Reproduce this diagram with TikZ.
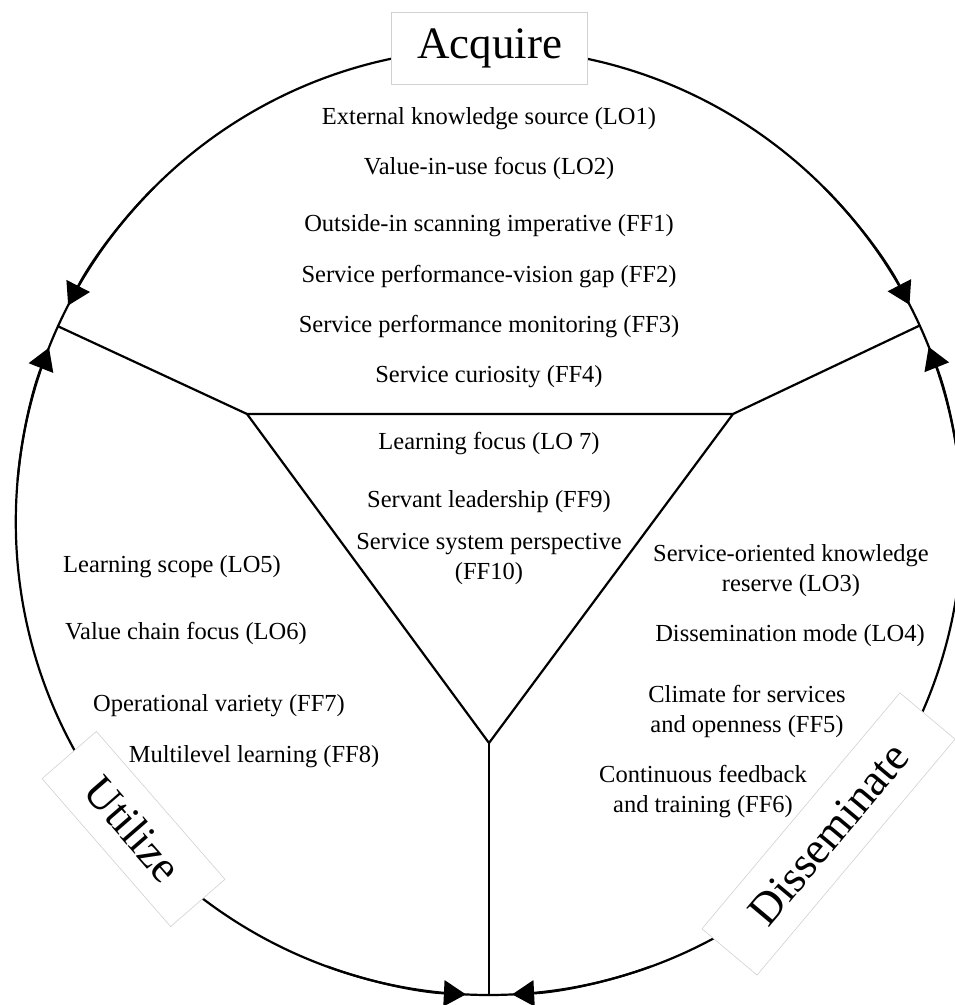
\documentclass[tikz,border=0pt]{standalone}
\usepackage{fontspec}
\setmainfont{Liberation Serif}
\usetikzlibrary{arrows.meta}

\begin{document}
\begin{tikzpicture}[
  x=1pt, y=1pt,
  font=\fontsize{24.5}{30}\selectfont,
  line width=2.2pt,
  item/.style={anchor=base, align=center, inner sep=0pt},
  stage/.style={draw=black!18, line width=0.6pt, fill=white, minimum width=196pt, minimum height=72pt, inner sep=0pt, font=\fontsize{45}{54}\selectfont},
  flow/.style={-{Triangle[length=22pt,width=26pt]}}
]
\useasboundingbox (0,0) rectangle (955,1005);
\coordinate (c) at (489,483.2);
\draw (c) circle[radius=473.2pt];
\path (c) ++(155.6:473.2) coordinate (jl);
\path (c) ++(24.5:473.2) coordinate (jr);
\path (c) ++(270:473.2) coordinate (jb);
\coordinate (tl) at (247,591);
\coordinate (tr) at (733,591);
\coordinate (tb) at (489,262);
\draw (tl) -- (tr) -- (tb) -- cycle;
\draw (jl) -- (tl);
\draw (jr) -- (tr);
\draw (jb) -- (tb);
\foreach \a/\b in {135/152.8, 175/158.4, 45/27.3, 5/21.7, 250/267.2, 290/272.8}
  \draw[flow] (c) ++(\a:473.2) arc[start angle=\a, end angle=\b, radius=473.2pt];

\node[stage] (acquire) at (489.5,957) {Acquire};
\node[stage, rotate=-49] (utilize) at (133.5,176) {Utilize};
\node[stage, rotate=50, minimum width=308pt] (disseminate) at (828.5,171) {Disseminate};

\node[item] (lo1) at (489,880) {External knowledge source (LO1)};
\node[item] (lo2) at (489,830) {Value-in-use focus (LO2)};
\node[item] (ff1) at (489,773) {Outside-in scanning imperative (FF1)};
\node[item] (ff2) at (489,722) {Service performance-vision gap (FF2)};
\node[item] (ff3) at (489,672) {Service performance monitoring (FF3)};
\node[item] (ff4) at (489,622) {Service curiosity (FF4)};

\node[item] (lo7) at (489,555) {Learning focus (LO 7)};
\node[item] (ff9) at (489,497) {Servant leadership (FF9)};
\node[item] (ff10) at (489,425) {Service system perspective\\(FF10)};

\node[item] (lo5) at (172,432) {Learning scope (LO5)};
\node[item] (lo6) at (186,365) {Value chain focus (LO6)};
\node[item] (ff7) at (219,293) {Operational variety (FF7)};
\node[item] (ff8) at (254,242) {Multilevel learning (FF8)};

\node[item] (lo3) at (791,413) {Service-oriented knowledge\\reserve (LO3)};
\node[item] (lo4) at (790,363) {Dissemination mode (LO4)};
\node[item] (ff5) at (747,272) {Climate for services\\and openness (FF5)};
\node[item] (ff6) at (703,192) {Continuous feedback\\and training (FF6)};
\end{tikzpicture}
\end{document}
